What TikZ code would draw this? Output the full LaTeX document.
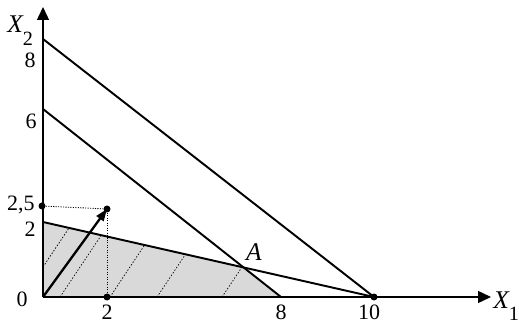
\documentclass[tikz,border=0pt]{standalone}
\usepackage{fontspec}
\setmainfont{Liberation Serif}
\usetikzlibrary{arrows.meta}
\definecolor{regiongray}{RGB}{217,217,217}
\begin{document}
\begin{tikzpicture}[x=0.02cm,y=-0.02cm,
  num/.style={font=\fontsize{12.5}{13}\selectfont, inner sep=0pt},
  var/.style={font=\fontsize{14.5}{15}\selectfont\itshape, inner sep=0pt},
  axis/.style={line width=0.8pt, -{Triangle[length=0.26cm,width=0.24cm]}},
  bound/.style={line width=1.1pt},
  vect/.style={line width=1.3pt, -{Triangle[length=0.24cm,width=0.17cm]}},
  hatch/.style={line width=0.4pt, dash pattern=on 0.8pt off 1pt},
  guide/.style={line width=0.5pt, dash pattern=on 0.6pt off 0.8pt},
  dot/.style={circle, fill=black, inner sep=0pt, minimum size=0.14cm}]
\useasboundingbox (0,0) rectangle (519,323);
% key points
\coordinate (O) at (43,297);
\coordinate (Xend) at (491,297);
\coordinate (Yend) at (43,7);
\coordinate (B8) at (43,39);
\coordinate (B6) at (43,109);
\coordinate (B2) at (43,222);
\coordinate (X8) at (281,297);
\coordinate (A) at (243.6,267.5);
% shaded feasible region
\fill[regiongray] (O) -- (B2) -- (A) -- (X8) -- cycle;
% hatch lines
\coordinate (h1a) at (43,267);  \coordinate (h1b) at (69,228);
\coordinate (h2a) at (60,297);  \coordinate (h2b) at (101.2,235.4);
\coordinate (h3a) at (110,297); \coordinate (h3b) at (144.6,245);
\coordinate (h4a) at (157,297); \coordinate (h4b) at (185.5,254.3);
\coordinate (h5a) at (222,297); \coordinate (h5b) at (241.9,267.2);
\draw[hatch] (h1a) -- (h1b);
\draw[hatch] (h2a) -- (h2b);
\draw[hatch] (h3a) -- (h3b);
\draw[hatch] (h4a) -- (h4b);
\draw[hatch] (h5a) -- (h5b);
% dots
\node[dot] (P25) at (42,206) {};
\node[dot] (V) at (107,209) {};
\node[dot] (D2) at (107,297) {};
\node[dot] (X10) at (374,297) {};
% axes
\draw[axis] (O) -- (Xend);
\draw[axis] (O) -- (Yend);
% constraint lines
\draw[bound] (B8) -- (X10.center);
\draw[bound] (B6) -- (X8);
\draw[bound] (B2) -- (X10.center);
% guides and vector
\draw[guide] (P25) -- (V);
\draw[guide] (V) -- (D2);
\draw[vect] (O) -- (V.center);
% labels
\node[var, anchor=base west] (lx2) at (7,33) {X\raisebox{-0.5em}{\fontsize{11.5}{12}\selectfont\upshape 2}};
\node[var, anchor=base west] (lx1) at (493,308) {X\raisebox{-0.5em}{\fontsize{11.5}{12}\selectfont\upshape 1}};
\node[var] (lA) at (254,252) {A};
\node[num, anchor=base east] (ly8) at (36,68) {8};
\node[num, anchor=base east] (ly6) at (37,129) {6};
\node[num, anchor=base east] (ly25) at (35,211) {2,5};
\node[num, anchor=base east] (ly2) at (36,236) {2};
\node[num, anchor=base] (l0) at (22,306) {0};
\node[num, anchor=base] (lx2n) at (107,319) {2};
\node[num, anchor=base] (lx8) at (281,319) {8};
\node[num, anchor=base] (lx10) at (369,319) {10};
\end{tikzpicture}
\end{document}
